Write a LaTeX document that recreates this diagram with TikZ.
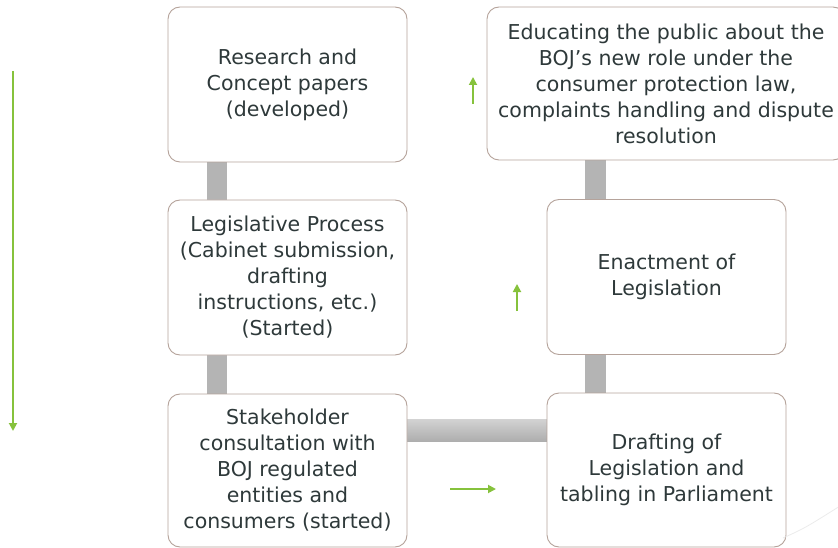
\documentclass[tikz,border=0pt]{standalone}
\usepackage{fontspec}
\setmainfont{DejaVu Sans}
\usetikzlibrary{arrows.meta,calc,backgrounds}

\definecolor{boxline}{HTML}{B5A39B}
\definecolor{inktext}{HTML}{2E393A}
\definecolor{leaf}{HTML}{86C23C}
\definecolor{barlight}{HTML}{D2D2D2}
\definecolor{bardark}{HTML}{ADADAD}

\begin{document}
\begin{tikzpicture}[x=1pt,y=-1pt,
  stage/.style={draw=boxline, line width=0.9pt, fill=white, rounded corners=12pt,
    minimum width=239pt, minimum height=155pt, align=center, inner sep=4pt,
    text=inktext, font=\fontsize{20.5}{26}\selectfont},
  bar/.style={fill=bardark!80!barlight},
  hbar/.style={top color=barlight, bottom color=bardark},
  garrow/.style={draw=leaf, line width=1.8pt, -{Triangle[length=8pt,width=8pt]}},
  faint/.style={draw=black!8, line width=0.8pt}]

\useasboundingbox (0,0) rectangle (838,548);
\clip (0,0) rectangle (838,548);

% process stages
\node[stage] (research) at (287.5,84.5) {Research and\\Concept papers\\(developed)};
\node[stage] (legis) at (287.5,277.5) {Legislative Process\\(Cabinet submission,\\drafting\\instructions, etc.)\\(Started)};
\node[stage, minimum height=153pt] (stake) at (287.5,470.5) {Stakeholder\\consultation with\\BOJ regulated\\entities and\\consumers (started)};
\node[stage, minimum width=358pt, minimum height=153pt] (educ) at (666,83.5) {Educating the public about the\\BOJ’s new role under the\\consumer protection law,\\complaints handling and dispute\\resolution};
\node[stage] (enact) at (666.5,277) {Enactment of\\Legislation};
\node[stage, minimum height=154pt] (draft) at (666.5,470) {Drafting of\\Legislation and\\tabling in Parliament};

% connecting bars behind the stages
\begin{scope}[on background layer]
  \fill[bar] ($(research.south west)+(39,-6)$) rectangle ($(legis.north west)+(59,6)$);
  \fill[bar] ($(legis.south west)+(39,-6)$) rectangle ($(stake.north west)+(59,6)$);
  \fill[bar] ($(enact.north west)+(38,6)$) rectangle ($(educ.south west)+(119,-6)$);
  \fill[bar] ($(enact.south west)+(38,-6)$) rectangle ($(draft.north west)+(59,6)$);
  \shade[hbar] ($(stake.north east)+(-4,26)$) rectangle ($(draft.north west)+(4,49)$);
\end{scope}

% green direction arrows
\coordinate (downA) at (13,71);
\coordinate (downB) at (13,431);
\coordinate (upA1) at (473,104);
\coordinate (upA2) at (473,77);
\coordinate (upB1) at (517,311);
\coordinate (upB2) at (517,284);
\coordinate (rightA) at (450,489);
\coordinate (rightB) at (496,489);
\draw[garrow] (downA) -- (downB);
\draw[garrow] (upA1) -- (upA2);
\draw[garrow] (upB1) -- (upB2);
\draw[garrow] (rightA) -- (rightB);

% faint sweep in the lower right corner
\coordinate (sweepA) at (783,538);
\coordinate (sweepB) at (840,506);
\draw[faint] (sweepA) .. controls (805,528) .. (sweepB);
\end{tikzpicture}
\end{document}
